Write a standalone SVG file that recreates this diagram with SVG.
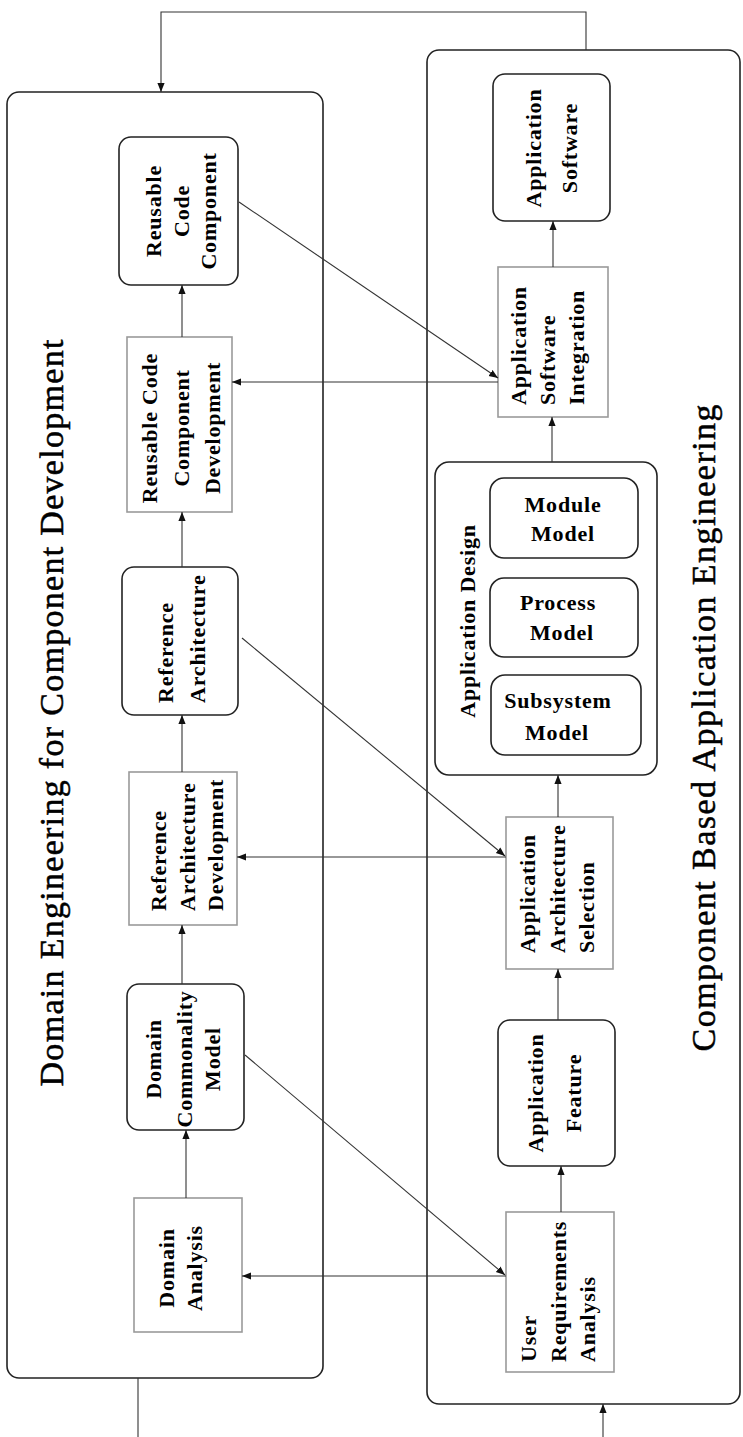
<svg xmlns="http://www.w3.org/2000/svg" width="743" height="1437" viewBox="0 0 743 1437">
<style>
.bg{fill:#fff}
.cont{fill:none;stroke:#222;stroke-width:1.6}
.rnd{fill:#fff;stroke:#222;stroke-width:1.6}
.sq{fill:#fff;stroke:#9a9a9a;stroke-width:1.6}
.lbl{font-family:"Liberation Serif",serif;font-weight:bold;font-size:22px;letter-spacing:0.8px;fill:#000}
.ttl{font-family:"Liberation Serif",serif;font-size:34px;fill:#000;stroke:#000;stroke-width:0.5}
.con{fill:none;stroke:#333;stroke-width:1.1}
</style>
<defs>
<marker id="ah" viewBox="0 0 10 10" refX="10" refY="5" markerWidth="9" markerHeight="9" markerUnits="userSpaceOnUse" orient="auto">
<path d="M0,1 L10,5 L0,9 z" fill="#111"/>
</marker>
</defs>
<rect class="bg" x="0" y="0" width="743" height="1437"/>

<g id="domain-container">
<rect class="cont" x="7" y="92" width="316" height="1286" rx="12"/>
<text class="ttl" transform="translate(63,713) rotate(-90)" text-anchor="middle" textLength="747" lengthAdjust="spacing">Domain Engineering for Component Development</text>
</g>
<g id="application-container">
<rect class="cont" x="427" y="50" width="313" height="1354" rx="12"/>
<text class="ttl" transform="translate(715,728) rotate(-90)" text-anchor="middle" textLength="647" lengthAdjust="spacing">Component Based Application Engineering</text>
</g>

<g id="reusable-code-component">
<rect class="rnd" x="119" y="137" width="119" height="148" rx="12"/>
<text class="lbl" transform="translate(161,211) rotate(-90)" text-anchor="middle"><tspan x="0" dy="0">Reusable</tspan><tspan x="0" dy="28">Code</tspan><tspan x="0" dy="27">Component</tspan></text>
</g>
<g id="application-software">
<rect class="rnd" x="493" y="74" width="117" height="147" rx="12"/>
<text class="lbl" transform="translate(541,148) rotate(-90)" text-anchor="middle"><tspan x="0" dy="0">Application</tspan><tspan x="0" dy="36">Software</tspan></text>
</g>
<g id="reusable-code-component-development">
<rect class="sq" x="127" y="337" width="105" height="175"/>
<text class="lbl" transform="translate(157,428) rotate(-90)" text-anchor="middle"><tspan x="0" dy="0">Reusable Code</tspan><tspan x="0" dy="32">Component</tspan><tspan x="0" dy="31">Development</tspan></text>
</g>
<g id="application-software-integration">
<rect class="sq" x="498" y="267" width="110" height="150"/>
<text class="lbl" transform="translate(526,405) rotate(-90)" text-anchor="start"><tspan x="0" dy="0">Application</tspan><tspan x="0" dy="29">Software</tspan><tspan x="0" dy="29">Integration</tspan></text>
</g>
<g id="application-design">
<rect class="rnd" x="435" y="462" width="222" height="313" rx="14"/>
<text class="lbl" transform="translate(475,621) rotate(-90)" text-anchor="middle">Application Design</text>
</g>
<g id="module-model">
<rect class="rnd" x="490" y="478" width="148" height="80" rx="14"/>
<text class="lbl" text-anchor="middle"><tspan x="563" y="512">Module</tspan><tspan x="563" y="541">Model</tspan></text>
</g>
<g id="process-model">
<rect class="rnd" x="490" y="578" width="148" height="79" rx="14"/>
<text class="lbl" text-anchor="middle"><tspan x="558" y="610">Process</tspan><tspan x="562" y="640">Model</tspan></text>
</g>
<g id="subsystem-model">
<rect class="rnd" x="491" y="675" width="150" height="80" rx="14"/>
<text class="lbl" text-anchor="middle"><tspan x="558" y="708">Subsystem</tspan><tspan x="557" y="740">Model</tspan></text>
</g>
<g id="reference-architecture">
<rect class="rnd" x="122" y="567" width="116" height="148" rx="12"/>
<text class="lbl" transform="translate(173,703) rotate(-90)" text-anchor="start"><tspan x="0" dy="0">Reference</tspan><tspan x="0" dy="32">Architecture</tspan></text>
</g>
<g id="reference-architecture-development">
<rect class="sq" x="129" y="772" width="108" height="153"/>
<text class="lbl" transform="translate(166,911) rotate(-90)" text-anchor="start"><tspan x="0" dy="0">Reference</tspan><tspan x="0" dy="29">Architecture</tspan><tspan x="0" dy="28">Development</tspan></text>
</g>
<g id="application-architecture-selection">
<rect class="sq" x="506" y="817" width="107" height="152"/>
<text class="lbl" transform="translate(535,953) rotate(-90)" text-anchor="start"><tspan x="0" dy="0">Application</tspan><tspan x="0" dy="30">Architecture</tspan><tspan x="0" dy="29">Selection</tspan></text>
</g>
<g id="domain-commonality-model">
<rect class="rnd" x="127" y="984" width="117" height="146" rx="12"/>
<text class="lbl" transform="translate(161,1059) rotate(-90)" text-anchor="middle"><tspan x="0" dy="0">Domain</tspan><tspan x="0" dy="31">Commonality</tspan><tspan x="0" dy="28">Model</tspan></text>
</g>
<g id="application-feature">
<rect class="rnd" x="498" y="1020" width="117" height="146" rx="12"/>
<text class="lbl" transform="translate(543,1093) rotate(-90)" text-anchor="middle"><tspan x="0" dy="0">Application</tspan><tspan x="0" dy="38">Feature</tspan></text>
</g>
<g id="domain-analysis">
<rect class="sq" x="134" y="1198" width="108" height="134"/>
<text class="lbl" transform="translate(174,1268) rotate(-90)" text-anchor="middle"><tspan x="0" dy="0">Domain</tspan><tspan x="0" dy="28">Analysis</tspan></text>
</g>
<g id="user-requirements-analysis">
<rect class="sq" x="506" y="1212" width="108" height="160"/>
<text class="lbl" transform="translate(536,1362) rotate(-90)" text-anchor="start"><tspan x="0" dy="0">User</tspan><tspan x="0" dy="30">Requirements</tspan><tspan x="0" dy="29">Analysis</tspan></text>
</g>

<g id="connectors">
<path class="con" d="M586,50 V12 H161 V92" marker-end="url(#ah)"/>
<path class="con" d="M138,1378 V1437"/>
<path class="con" d="M603,1437 V1404" marker-end="url(#ah)"/>
<path class="con" d="M186,1198 V1130" marker-end="url(#ah)"/>
<path class="con" d="M182,984 V925" marker-end="url(#ah)"/>
<path class="con" d="M182,772 V715" marker-end="url(#ah)"/>
<path class="con" d="M182,567 V512" marker-end="url(#ah)"/>
<path class="con" d="M182,337 V285" marker-end="url(#ah)"/>
<path class="con" d="M561,1212 V1166" marker-end="url(#ah)"/>
<path class="con" d="M558,1020 V969" marker-end="url(#ah)"/>
<path class="con" d="M558,817 V775" marker-end="url(#ah)"/>
<path class="con" d="M552,462 V417" marker-end="url(#ah)"/>
<path class="con" d="M553,267 V221" marker-end="url(#ah)"/>
<path class="con" d="M506,1276 H242" marker-end="url(#ah)"/>
<path class="con" d="M506,857 H237" marker-end="url(#ah)"/>
<path class="con" d="M498,382 H232" marker-end="url(#ah)"/>
<path class="con" d="M245,1055 L505,1275" marker-end="url(#ah)"/>
<path class="con" d="M242,638 L505,856" marker-end="url(#ah)"/>
<path class="con" d="M239,202 L498,378" marker-end="url(#ah)"/>
</g>
</svg>
